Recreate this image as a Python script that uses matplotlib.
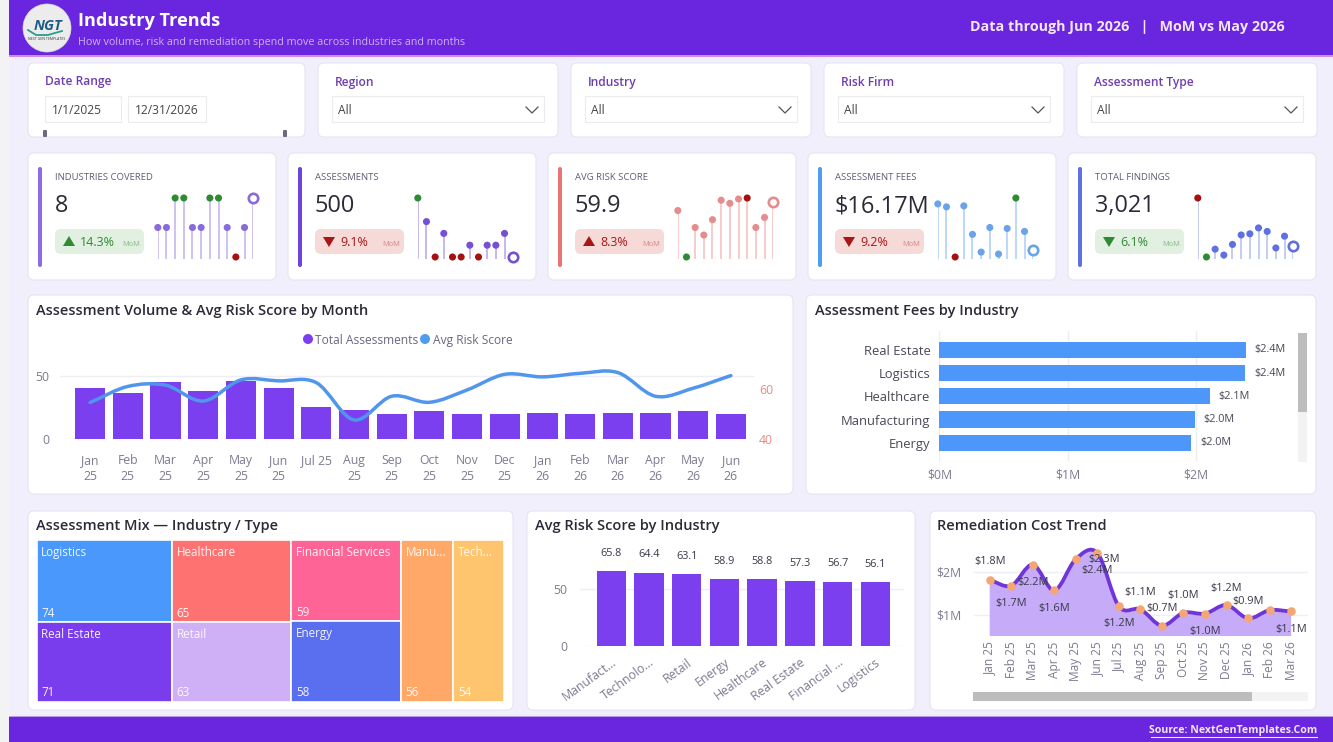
import numpy as np
import matplotlib
matplotlib.use('Agg')
import matplotlib.pyplot as plt
from matplotlib.patches import FancyBboxPatch, Rectangle, Polygon, Circle, PathPatch
from matplotlib.path import Path
from matplotlib.transforms import ScaledTranslation

plt.rcParams['font.family'] = ['Open Sans', 'DejaVu Sans']

W, H = 1333, 742

# --- data ---
meses = ['Jan\n25', 'Feb\n25', 'Mar\n25', 'Apr\n25', 'May\n25', 'Jun\n25', 'Jul 25', 'Aug\n25', 'Sep\n25',
         'Oct\n25', 'Nov\n25', 'Dec\n25', 'Jan\n26', 'Feb\n26', 'Mar\n26', 'Apr\n26', 'May\n26', 'Jun\n26']
total_assessments = [40, 36, 45, 38, 46, 40, 25, 23, 20, 22, 20, 20, 21, 20, 21, 21, 22, 20]
avg_risk_mes = [54.6, 61.0, 61.5, 55.2, 63.6, 63.2, 62.5, 47.7, 57.1, 54.7, 59.6, 65.8, 64.8, 66.2, 66.5, 57.1, 60.3, 65.3]

fee_industrias = ['Real Estate', 'Logistics', 'Healthcare', 'Manufacturing', 'Energy']
fee_valores = [2.386, 2.38, 2.107, 1.99, 1.96]

risk_industrias = ['Manufact...', 'Technolo...', 'Retail', 'Energy', 'Healthcare', 'Real Estate', 'Financial ...', 'Logistics']
risk_valores = [65.8, 64.4, 63.1, 58.9, 58.8, 57.3, 56.7, 56.1]

# treemap: columns of (name, count, colour)
mix_colunas = [
    [('Logistics', 74, '#4A98FB'), ('Real Estate', 71, '#7A3DED')],
    [('Healthcare', 65, '#FF7272'), ('Retail', 63, '#CFAFF5')],
    [('Financial Services', 59, '#FF6496'), ('Energy', 58, '#5A6EF0')],
    [('Manu...', 56, '#FFA868')],
    [('Tech...', 54, '#FFC46E')],
]

rem_meses = ['Jan 25', 'Feb 25', 'Mar 25', 'Apr 25', 'May 25', 'Jun 25', 'Jul 25', 'Aug 25', 'Sep 25',
             'Oct 25', 'Nov 25', 'Dec 25', 'Jan 26', 'Feb 26', 'Mar 26']
rem_valores = [1.806, 1.67, 2.16, 1.56, 2.29, 2.43, 1.19, 1.12, 0.74, 1.04, 1.02, 1.22, 0.91, 1.10, 1.07]
# label offsets in px from the point, None = no label
rem_offsets = [(0, 18), (0, -18), (0, -18), (0, -18), (28, 0), (0, -17), (0, -17), (0, 17), (0, 17),
               (0, 17), (0, -18), (0, 17), (0, 17), None, (0, -18)]

spark_industrias = [7, 7, 8, 8, 7, 7, 8, 8, 7, 6, 7, 8]
spark_assessments = total_assessments[-12:]
spark_risk = avg_risk_mes[-12:]
spark_fees = [1.14, 1.11, 0.60, 1.12, 0.83, 0.65, 0.90, 0.63, 0.89, 1.20, 0.86, 0.67]
spark_findings = [250, 100, 120, 105, 132, 156, 159, 174, 165, 123, 153, 129]

kpi_labels = ['INDUSTRIES COVERED', 'ASSESSMENTS', 'AVG RISK SCORE', 'ASSESSMENT FEES', 'TOTAL FINDINGS']
kpi_values = ['8', '500', '59.9', '$16.17M', '3,021']
kpi_pcts = ['14.3%', '9.1%', '8.3%', '9.2%', '6.1%']
kpi_up = [True, False, True, False, False]
kpi_good = [True, False, False, False, True]
kpi_series = [spark_industrias, spark_assessments, spark_risk, spark_fees, spark_findings]
# higher is worse for risk and findings: max goes red
kpi_inverse = [False, False, True, False, True]
kpi_bar_cor = ['#8B6CE4', '#6F42DC', '#E87474', '#4F9CF0', '#5F70E4']
kpi_stem_cor = ['#C4B2EC', '#B9A3EA', '#F5BDBD', '#A9CDF6', '#B4BEF0']
kpi_dot_cor = ['#8A6BDC', '#7350D4', '#E58C8C', '#6AA3E8', '#5F70E0']

filtros = ['Region', 'Industry', 'Risk Firm', 'Assessment Type']

ROXO = '#6A26DE'
BAR = '#7B3FEF'
GRID = '#EFEEF5'
TICK = '#7C7A90'
DARK = '#2B2A38'

fig = plt.figure(figsize=(W / 100, H / 100), dpi=100, facecolor='#F0EFFB')

# background axes in pixel coordinates, holds the cards and loose text
bg = fig.add_axes([0, 0, 1, 1])
bg.set_xlim(0, W)
bg.set_ylim(H, 0)
bg.axis('off')


def ax_px(x0, y0, x1, y1):
    a = fig.add_axes([x0 / W, 1 - y1 / H, (x1 - x0) / W, (y1 - y0) / H], zorder=5)
    a.patch.set_visible(False)
    for s in a.spines.values():
        s.set_visible(False)
    return a


def rect(x0, y0, x1, y1, cor, **kw):
    bg.add_patch(Rectangle((x0, y0), x1 - x0, y1 - y0, facecolor=cor, edgecolor='none', **kw))


def card(x0, y0, x1, y1, r=6):
    bg.add_patch(FancyBboxPatch((x0, y0), x1 - x0, y1 - y0, boxstyle=f'round,pad=0,rounding_size={r}',
                                facecolor='white', edgecolor='#E6E4F3', linewidth=0.8))


def txt(x, y, s, size, cor=DARK, weight='normal', ha='left', va='center', **kw):
    return bg.text(x, y, s, fontsize=size * 0.72, color=cor, fontweight=weight, ha=ha, va=va, **kw)


def curva(x, y):
    # smooth line through the points, drawn as bezier segments
    x = np.asarray(x, dtype=float)
    y = np.asarray(y, dtype=float)
    m = np.gradient(y, x)
    verts = [(x[0], y[0])]
    codes = [Path.MOVETO]
    for i in range(len(x) - 1):
        h = x[i + 1] - x[i]
        verts += [(x[i] + h / 3, y[i] + m[i] * h / 3), (x[i + 1] - h / 3, y[i + 1] - m[i + 1] * h / 3), (x[i + 1], y[i + 1])]
        codes += [Path.CURVE4] * 3
    return verts, codes


# --- frame ---
rect(0, 0, 9, H, '#F3F3F3')
rect(9, 0, W, 55, ROXO)
rect(9, 55, W, 57, '#D28CD8')
rect(9, 717, W, H, ROXO)
rect(9, 716, W, 717, '#B79BE8')

# logo
bg.add_patch(Circle((47, 28), 24, facecolor='#ECECEC', edgecolor='#DADADA', linewidth=0.5))
txt(48, 26, 'NGT', 14.5, '#1F5C86', 'bold', ha='center', style='italic')
bg.plot([28, 36, 48, 62], [30, 35, 35, 31], color='#2A9D8F', lw=1.3)
txt(47, 39, 'NEXT GEN TEMPLATES', 3.5, '#333333', ha='center')

txt(78, 21, 'Industry Trends', 18.2, 'white', 'bold')
txt(78, 42, 'How volume, risk and remediation spend move across industries and months', 10.7, '#CDB0F2')
txt(970, 27, 'Data through Jun 2026   |   MoM vs May 2026', 14.2, '#F3E6FB', 'bold')
txt(1317, 731, 'Source: NextGenTemplates.Com', 10.5, '#F3E6FB', 'bold', ha='right')
bg.plot([1151, 1317], [736.5, 736.5], color='#F3E6FB', lw=0.8)

# --- filters ---
card(28, 63, 305, 137)
txt(45, 81, 'Date Range', 12, '#6F3FB0', 'semibold')
for x0, x1, s in [(45, 121, '1/1/2025'), (128, 206, '12/31/2026')]:
    bg.add_patch(Rectangle((x0, 96), x1 - x0, 26, facecolor='white', edgecolor='#ECECEC', linewidth=0.8))
    txt(x0 + 7, 110, s, 12, '#444444')
for x in (45, 285):
    bg.add_patch(FancyBboxPatch((x - 2, 130), 4, 7, boxstyle='round,pad=0,rounding_size=1', facecolor='#6C6985', edgecolor='none'))

for i, nome in enumerate(filtros):
    x0 = 318 + i * 253
    card(x0, 63, x0 + 240, 137)
    txt(x0 + 17, 81, nome, 12, '#6F3FB0', 'semibold', va='center_baseline')
    bg.add_patch(Rectangle((x0 + 14, 96), 212, 26, facecolor='white', edgecolor='#ECECEC', linewidth=0.8))
    txt(x0 + 20, 111, 'All', 12, '#444444')
    bg.plot([x0 + 208, x0 + 214, x0 + 220], [107, 113, 107], color='#555555', lw=0.9)

# --- KPI cards ---
for i in range(5):
    dx = i * 260
    card(28 + dx, 153, 276 + dx, 280)
    bg.add_patch(FancyBboxPatch((38 + dx, 167), 4, 100, boxstyle='round,pad=0,rounding_size=2',
                                facecolor=kpi_bar_cor[i], edgecolor='none'))
    txt(55 + dx, 177.5, kpi_labels[i], 9.5, '#5F5C73')
    txt(55 + dx, 206, kpi_values[i], 23.5, DARK)

    cor = '#2E8B34' if kpi_good[i] else '#A81616'
    bg.add_patch(FancyBboxPatch((55 + dx, 229), 89, 25, boxstyle='round,pad=0,rounding_size=6',
                                facecolor='#E1F0E0' if kpi_good[i] else '#F6DAD8', edgecolor='none'))
    if kpi_up[i]:
        tri = [(63 + dx, 246), (75 + dx, 246), (69 + dx, 236)]
    else:
        tri = [(63 + dx, 237), (75 + dx, 237), (69 + dx, 247)]
    bg.add_patch(Polygon(tri, facecolor=cor, edgecolor='none'))
    txt(80 + dx, 242, kpi_pcts[i], 12.5, cor)
    txt(140 + dx, 244, 'MoM', 7.5, '#86BC86' if kpi_good[i] else '#D98686', ha='right')

    # lollipop spark
    vals = np.array(kpi_series[i], dtype=float)
    sp = ax_px(157.8 + dx, 190, 253.2 + dx, 259)
    sp.axis('off')
    sp.set_xlim(0, 11)
    # min value sits 2px above the baseline, max at y=198
    escala = (vals.max() - vals.min()) / 59
    sp.set_ylim(vals.min() - 2 * escala, vals.max() + 8 * escala)
    x = np.arange(12)
    sp.vlines(x, vals.min() - 2 * escala, vals, color=kpi_stem_cor[i], lw=1.1)
    alto, baixo = ('#A81010', '#2E8B34') if kpi_inverse[i] else ('#2E8B34', '#A81010')
    cores = []
    for v in vals:
        if v == vals.max():
            cores.append(alto)
        elif v == vals.min():
            cores.append(baixo)
        else:
            cores.append(kpi_dot_cor[i])
    sp.scatter(x[:-1], vals[:-1], s=26, c=cores[:-1], zorder=3, clip_on=False, linewidths=0)
    sp.scatter(x[-1], vals[-1], s=46, facecolor='white', edgecolor=kpi_dot_cor[i], linewidths=1.9, zorder=4, clip_on=False)

# --- chart cards ---
card(28, 295, 793, 494)
card(806, 295, 1316, 494)
card(28, 511, 513, 710)
card(527, 511, 915, 710)
card(930, 511, 1316, 710)
txt(36, 311, 'Assessment Volume & Avg Risk Score by Month', 14.6, DARK, 'semibold')
txt(815, 311, 'Assessment Fees by Industry', 14.6, DARK, 'semibold')
txt(36, 526, 'Assessment Mix — Industry / Type', 14.6, DARK, 'semibold')
txt(535, 526, 'Avg Risk Score by Industry', 14.6, DARK, 'semibold')
txt(937, 526, 'Remediation Cost Trend', 14.6, DARK, 'semibold')

# --- volume + risk by month ---
ax = ax_px(60, 360, 755, 439.3)
pos = np.arange(len(meses))
ax.bar(pos, total_assessments, width=0.8, color=BAR, zorder=2)
ax.set_xlim(-0.8, 17.64)
ax.set_ylim(0, 62.3)
ax.set_yticks([0, 50])
ax.set_xticks(pos)
ax.set_xticklabels(meses, fontsize=8.8, color=TICK, linespacing=1.3, va='top')
ax.tick_params(axis='both', length=0, labelsize=8.8, labelcolor=TICK)
ax.tick_params(axis='x', pad=10.5)
ax.tick_params(axis='y', pad=8)
ax.grid(axis='y', color=GRID, lw=1, zorder=0)
ax.set_axisbelow(True)

ax2 = ax.twinx()
ax2.patch.set_visible(False)
for s in ax2.spines.values():
    s.set_visible(False)
ax2.set_ylim(40, 71.5)
ax2.set_yticks([40, 60])
ax2.tick_params(axis='y', length=0, labelsize=8.8, labelcolor='#E58A82', pad=3)
v, c = curva(pos, avg_risk_mes)
ax2.add_patch(PathPatch(Path(v, c), facecolor='none', edgecolor='#4F96EC', lw=2.5, capstyle='round', zorder=4))

bg.add_patch(Circle((308, 339), 5, facecolor=BAR, edgecolor='none'))
txt(315, 339, 'Total Assessments', 12, '#6B6880', va='center_baseline')
bg.add_patch(Circle((425, 339), 5, facecolor='#4F9CF0', edgecolor='none'))
txt(433, 339, 'Avg Risk Score', 12, '#6B6880', va='center_baseline')

# --- fees by industry ---
ax = ax_px(939.4, 331, 1290, 462)
pos = np.arange(len(fee_industrias))
ax.barh(pos, fee_valores, height=0.7, color='#4D97FB', zorder=2)
ax.set_xlim(0, 351 / 128.5)
ax.set_ylim(4.83, -0.819)
ax.set_yticks(pos)
ax.set_yticklabels(fee_industrias, fontsize=9.4, color='#4A4858')
ax.set_xticks([0, 1, 2])
ax.set_xticklabels(['$0M', '$1M', '$2M'], fontsize=8.8, color=TICK)
ax.tick_params(axis='both', length=0)
ax.tick_params(axis='y', pad=6.5)
ax.tick_params(axis='x', pad=5)
ax.grid(axis='x', color=GRID, lw=1, zorder=0)
ax.set_axisbelow(True)
for p, val in zip(pos, fee_valores):
    ax.annotate(f'${val:.1f}M', (val, p), xytext=(6.5, 0), textcoords='offset points', fontsize=7.8,
                color='#4A4858', va='center')
rect(1298, 333, 1307, 462, '#F3F3F3')
rect(1298, 333, 1307, 412, '#BDBDBD')

# --- treemap, sized from the counts ---
ax = ax_px(36.5, 540, 503.5, 701.5)
ax.axis('off')
total = sum(n for col in mix_colunas for _, n, _ in col)
ax.set_xlim(0, total)
ax.set_ylim(1, 0)
esq = 0
for col in mix_colunas:
    soma = sum(n for _, n, _ in col)
    topo = 0
    for nome, n, cor in col:
        alt = n / soma
        ax.add_patch(Rectangle((esq, topo), soma, alt, facecolor=cor, edgecolor='white', linewidth=1.2))
        ax.annotate(nome, (esq, topo), xytext=(3.5, -9), textcoords='offset points', fontsize=8.4,
                    color='white', alpha=0.92, va='center')
        ax.annotate(str(n), (esq, topo + alt), xytext=(3.5, 6.2), textcoords='offset points', fontsize=8.4,
                    color='white', alpha=0.92, va='center')
        topo += alt
    esq += soma

# --- risk by industry ---
ax = ax_px(580, 540, 904, 646)
pos = np.arange(len(risk_valores))
ax.bar(pos, risk_valores, width=0.78, color=BAR, zorder=2)
ax.set_xlim(-0.83, 7.76)
ax.set_ylim(0, 93.5)
ax.set_yticks([0, 50])
ax.set_xticks(pos)
labels = ax.set_xticklabels(risk_industrias, rotation=36, ha='right', rotation_mode='anchor', fontsize=8.8, color=TICK)
# the labels sit a bit left of the bar centre
for lab in labels:
    lab.set_transform(lab.get_transform() + ScaledTranslation(-7 / 100, 0, fig.dpi_scale_trans))
ax.tick_params(axis='both', length=0, labelsize=8.8, labelcolor=TICK)
ax.tick_params(axis='x', pad=7)
ax.tick_params(axis='y', pad=9)
ax.grid(axis='y', color=GRID, lw=1, zorder=0)
ax.set_axisbelow(True)
for p, val in zip(pos, risk_valores):
    ax.annotate(f'{val:.1f}', (p, val), xytext=(0, 9), textcoords='offset points', fontsize=7.8,
                color='#3A3848', ha='center', va='bottom')

# --- remediation trend ---
ax = ax_px(973.7, 540, 1307.7, 636)
pos = np.arange(len(rem_valores))
ax.set_xlim((973.7 - 989.7) / 21.53, (1307.7 - 989.7) / 21.53)
ax.set_ylim(0.5, 0.5 + 96 / 43)
ax.set_yticks([1, 2])
ax.set_yticklabels(['$1M', '$2M'], fontsize=8.8, color=TICK)
ax.set_xticks(pos)
ax.set_xticklabels(rem_meses, rotation=90, fontsize=8.6, color=TICK)
ax.tick_params(axis='both', length=0)
ax.tick_params(axis='x', pad=4)
ax.tick_params(axis='y', pad=9)
ax.grid(axis='y', color=GRID, lw=1, zorder=0)
ax.set_axisbelow(True)
v, c = curva(pos, rem_valores)
area_v = v + [(pos[-1], 0.5), (pos[0], 0.5), (pos[0], 0.5)]
area_c = c + [Path.LINETO, Path.LINETO, Path.CLOSEPOLY]
ax.add_patch(PathPatch(Path(area_v, area_c), facecolor='#C6ABF8', edgecolor='none', zorder=1))
ax.add_patch(PathPatch(Path(v, c), facecolor='none', edgecolor='#6F35D8', lw=2.7, capstyle='round', zorder=3))
ax.scatter(pos, rem_valores, s=38, color='#F4A673', zorder=4, linewidths=0, clip_on=False)
for p, val, off in zip(pos, rem_valores, rem_offsets):
    if off is None:
        continue
    ax.annotate(f'${val:.1f}M', (p, val), xytext=(off[0] * 0.72, off[1] * 0.72), textcoords='offset points',
                fontsize=7.9, color='#3A3848', ha='center', va='center', zorder=5, annotation_clip=False)
rect(973, 692, 1307.7, 701, '#F3F3F3')
rect(973, 692, 1252, 701, '#BDBDBD')

fig.savefig('out.png', dpi=100, facecolor=fig.get_facecolor())
